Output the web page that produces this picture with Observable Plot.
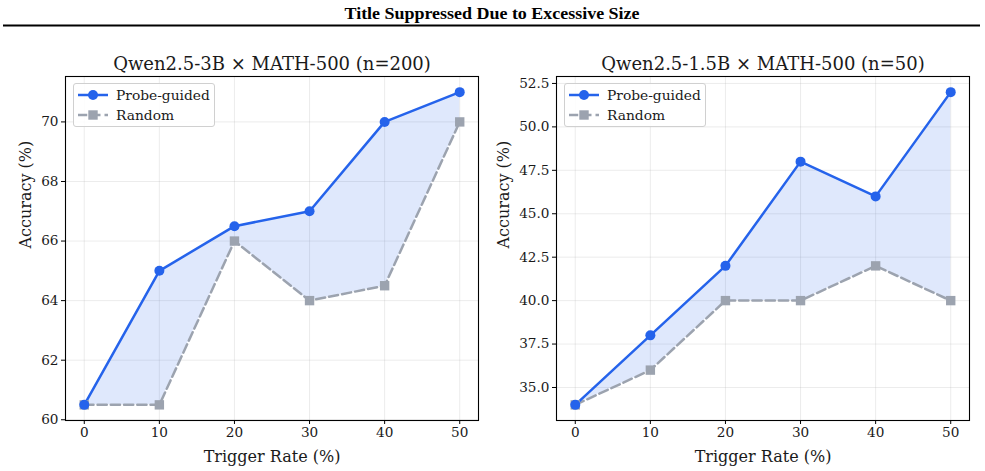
<!DOCTYPE html>
<html>
<head>
<meta charset="utf-8">
<script src="https://cdn.jsdelivr.net/npm/d3@7"></script>
<script src="https://cdn.jsdelivr.net/npm/@observablehq/plot@0.6"></script>
<style>
  html, body { margin: 0; padding: 0; background: #fff; }
  #root { position: relative; width: 985px; height: 471px; overflow: hidden; font-family: "DejaVu Serif", serif; }
  .panel { position: absolute; top: 0; }
  .panel svg { background: transparent !important; }
  .legend { position: absolute; border: 1px solid #d0d0d0; border-radius: 3px; background: rgba(255,255,255,0.85);
            font-family: "DejaVu Serif", serif; font-size: 13.8px; color: #1a1a1a; box-sizing: border-box; }
  .legend .row { position: absolute; left: 0; height: 20px; display: flex; align-items: center; white-space: nowrap; }
  .legend svg { display: block; }
</style>
</head>
<body>
<div id="root">
  <svg id="header" width="985" height="32" style="position:absolute;left:0;top:0">
    <text x="492" y="19" text-anchor="middle" font-family="'Liberation Serif', serif" font-weight="bold" font-size="16" textLength="295" lengthAdjust="spacingAndGlyphs">Title Suppressed Due to Excessive Size</text>
    <line x1="3" x2="980" y1="25.5" y2="25.5" stroke="#000" stroke-width="2"/>
  </svg>
</div>
<script>
// ---- data ----
const triggerRates = [0, 10, 20, 30, 40, 50];
const qwen3bProbe  = [60.5, 65, 66.5, 67, 70, 71];
const qwen3bRandom = [60.5, 60.5, 66, 64, 64.5, 70];
const qwen15bProbe  = [34, 38, 42, 48, 46, 52];
const qwen15bRandom = [34, 36, 40, 40, 42, 40];
const panelTitles = ["Qwen2.5-3B × MATH-500 (n=200)", "Qwen2.5-1.5B × MATH-500 (n=50)"];
const xTicks = [0, 10, 20, 30, 40, 50];
const yTicks3b = [60, 62, 64, 66, 68, 70];
const yTicks15b = [35, 37.5, 40, 42.5, 45, 47.5, 50, 52.5];
const seriesNames = ["Probe-guided", "Random"];
const xLabel = "Trigger Rate (%)";
const yLabel = "Accuracy (%)";

const BLUE = "#2563eb", GRAY = "#9ca3af";
const FONT = "DejaVu Serif";
const INK = "#1a1a1a";
const DASH = "9.25,4";

function makePanel(cfg) {
  const rows = triggerRates.map((x, i) => ({x, probe: cfg.probe[i], random: cfg.random[i]}));
  const plot = Plot.plot({
    width: cfg.width, height: 471,
    marginLeft: cfg.ml, marginRight: cfg.mr, marginTop: 76, marginBottom: 51,
    style: {fontFamily: FONT, background: "transparent", overflow: "visible"},
    x: {domain: [-2.5, 52.5]},
    y: {domain: cfg.ydomain},
    marks: [
      Plot.gridX(xTicks, {stroke: "#b0b0b0", strokeOpacity: 0.3, strokeWidth: 0.8}),
      Plot.gridY(cfg.yticks, {stroke: "#b0b0b0", strokeOpacity: 0.3, strokeWidth: 0.8}),
      Plot.areaY(rows, {x: "x", y1: "random", y2: "probe", fill: BLUE, fillOpacity: 0.15}),
      Plot.line(rows, {x: "x", y: "random", stroke: GRAY, strokeWidth: 2.5, strokeDasharray: DASH}),
      Plot.line(rows, {x: "x", y: "probe", stroke: BLUE, strokeWidth: 2.5}),
      Plot.dot(rows, {x: "x", y: "random", symbol: "square", r: 5.3, fill: GRAY, stroke: "none"}),
      Plot.dot(rows, {x: "x", y: "probe", symbol: "circle", r: 5, fill: BLUE, stroke: "none"}),
      Plot.axisX(xTicks, {tickSize: 4, tickPadding: 3, fontSize: 13.6, label: null, stroke: "#000", color: INK, tickFormat: d => String(d)}),
      Plot.axisY(cfg.yticks, {tickSize: 4, tickPadding: 3, fontSize: 13.6, label: null, stroke: "#000", color: INK, tickFormat: cfg.fmt}),
      Plot.frame({stroke: "#000", strokeWidth: 1.1}),
      Plot.text([cfg.title], {frameAnchor: "top", dy: -7, lineAnchor: "bottom", fontSize: 18, fill: INK}),
      Plot.text([xLabel], {frameAnchor: "bottom", dy: 36, lineAnchor: "middle", fontSize: 16, fill: INK}),
      Plot.text([yLabel], {frameAnchor: "left", dx: cfg.ylabDx, rotate: -90, lineAnchor: "middle", fontSize: 16, fill: INK})
    ]
  });
  const div = document.createElement("div");
  div.className = "panel";
  div.style.left = cfg.left + "px";
  div.appendChild(plot);
  document.getElementById("root").appendChild(div);

  // legend
  const lg = document.createElement("div");
  lg.className = "legend";
  lg.style.left = (cfg.left + cfg.ml + 8) + "px";
  lg.style.top = "83px";
  lg.style.width = "142px";
  lg.style.height = "44px";
  seriesNames.forEach((name, i) => {
    const row = document.createElement("div");
    row.className = "row";
    row.style.top = (i === 0 ? 1 : 21) + "px";
    const color = i === 0 ? BLUE : GRAY;
    const marker = i === 0
      ? `<circle cx="19" cy="10" r="5" fill="${color}"/>`
      : `<rect x="14.3" y="5.3" width="9.4" height="9.4" fill="${color}"/>`;
    row.innerHTML = `<svg width="42" height="20"><line x1="4" x2="34" y1="10" y2="10" stroke="${color}" stroke-width="2.5" ${i === 1 ? 'stroke-dasharray="' + DASH + '"' : ''}/>${marker}</svg><span>${name}</span>`;
    lg.appendChild(row);
  });
  document.getElementById("root").appendChild(lg);
}

makePanel({left: 0, width: 490, ml: 65, mr: 12, probe: qwen3bProbe, random: qwen3bRandom,
  ydomain: [59.975, 71.525], yticks: yTicks3b, fmt: d => String(d), title: panelTitles[0], ylabDx: -40});
makePanel({left: 490, width: 495, ml: 66, mr: 16, probe: qwen15bProbe, random: qwen15bRandom,
  ydomain: [33.1, 52.9], yticks: yTicks15b, fmt: d => d.toFixed(1), title: panelTitles[1], ylabDx: -53});
</script>
</body>
</html>
